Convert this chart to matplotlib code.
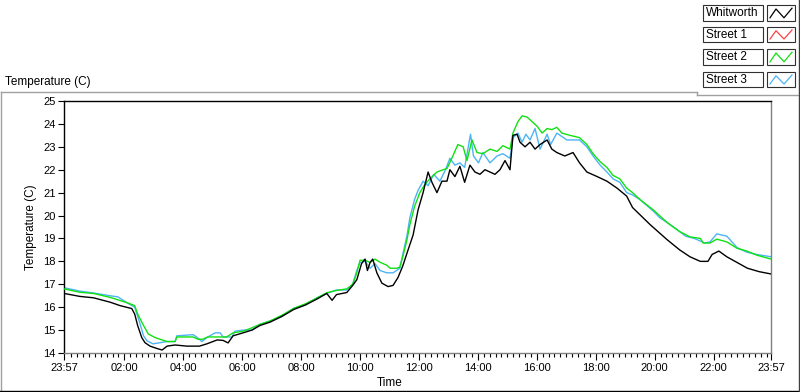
import matplotlib
matplotlib.use("Agg")
import matplotlib.pyplot as plt
from matplotlib.lines import Line2D
from matplotlib.patches import Rectangle
from matplotlib.ticker import FixedLocator

# ---------------- data (hours since 23:57 start) ----------------
series_names = ["Whitworth", "Street 1", "Street 2", "Street 3"]
series_colors = ["#000000", "#ff4040", "#11e011", "#4cb4f4"]

whitworth_t = [0, 0.54, 1.0, 1.56, 1.9, 2.3, 2.4, 2.5, 2.64, 2.75, 2.92, 3.15, 3.33, 3.5, 3.77,
               4.17, 4.6, 4.85, 5.2, 5.4, 5.57, 5.74, 6.08, 6.38, 6.65, 7.0, 7.4, 7.8, 8.2, 8.58,
               8.92, 9.1, 9.25, 9.6, 9.8, 9.94, 10.1, 10.22, 10.3, 10.39, 10.48, 10.62, 10.79, 11.0,
               11.17, 11.34, 11.5, 11.68, 11.85, 12.02, 12.19, 12.36, 12.49, 12.66, 12.83, 13.0,
               13.1, 13.27, 13.44, 13.6, 13.78, 13.95, 14.12, 14.29, 14.46, 14.63, 14.8, 14.97,
               15.14, 15.24, 15.38, 15.48, 15.65, 15.82, 15.99, 16.16, 16.4, 16.56, 16.73, 17.0,
               17.28, 17.5, 17.75, 18.1, 18.43, 18.77, 19.1, 19.3, 19.9, 20.47, 20.9, 21.25, 21.6,
               21.86, 22.0, 22.23, 22.5, 22.85, 23.2, 23.6, 24.0]
whitworth_v = [16.6, 16.47, 16.41, 16.22, 16.07, 15.94, 15.7, 15.2, 14.67, 14.45, 14.3, 14.2, 14.13, 14.3, 14.35,
               14.3, 14.3, 14.4, 14.57, 14.55, 14.44, 14.75, 14.88, 15.0, 15.2, 15.35, 15.6, 15.9, 16.1, 16.35,
               16.6, 16.3, 16.55, 16.64, 16.95, 17.2, 17.9, 18.1, 17.6, 17.95, 18.1, 17.5, 17.05, 16.9,
               16.95, 17.3, 17.8, 18.5, 19.15, 20.25, 21.0, 21.9, 21.45, 21.0, 21.5, 21.5,
               22.0, 21.7, 22.15, 21.45, 22.2, 21.9, 21.8, 22.0, 21.9, 21.8, 22.0, 22.4,
               22.0, 23.5, 23.55, 23.2, 23.0, 23.2, 22.9, 23.1, 23.3, 22.9, 22.75, 22.6,
               22.75, 22.3, 21.9, 21.7, 21.5, 21.2, 20.85, 20.35, 19.6, 18.95, 18.5, 18.2, 18.0,
               18.0, 18.3, 18.45, 18.2, 17.95, 17.7, 17.55, 17.45]

street1_t = []
street1_v = []

street2_t = [0, 0.54, 1.0, 1.56, 2.13, 2.4, 2.5, 2.7, 2.86, 3.1, 3.26, 3.5, 3.77, 3.83, 4.38, 4.55,
             4.7, 4.88, 5.52, 5.74, 6.08, 6.38, 6.65, 7.0, 7.4, 7.8, 8.2, 8.58, 8.92, 9.25, 9.6, 9.8,
             9.94, 10.05, 10.22, 10.39, 10.56, 10.73, 10.96, 11.07, 11.3, 11.4, 11.5, 11.64, 11.74,
             11.9, 12.08, 12.25, 12.42, 12.66, 12.87, 13.0, 13.2, 13.37, 13.55, 13.68, 13.85, 14.02,
             14.22, 14.46, 14.7, 14.9, 15.14, 15.24, 15.41, 15.55, 15.72, 15.89, 16.06, 16.23, 16.4,
             16.56, 16.73, 16.9, 17.18, 17.5, 17.75, 17.96, 18.2, 18.43, 18.64, 18.87, 19.1, 19.3,
             19.55, 20.0, 20.47, 20.9, 21.25, 21.6, 21.7, 21.93, 22.16, 22.5, 22.85, 23.18, 23.52, 24.0]
street2_v = [16.8, 16.65, 16.6, 16.43, 16.2, 16.07, 15.7, 15.2, 14.83, 14.67, 14.6, 14.5, 14.5, 14.7, 14.7, 14.6,
             14.6, 14.7, 14.7, 14.88, 14.95, 15.1, 15.25, 15.4, 15.65, 15.95, 16.15, 16.4, 16.63, 16.73, 16.8, 17.0,
             17.5, 18.05, 18.05, 17.95, 18.1, 17.96, 17.83, 17.7, 17.7, 17.75, 18.2, 18.93, 19.6,
             20.4, 21.0, 21.36, 21.6, 21.9, 22.0, 22.05, 22.6, 23.1, 23.0, 22.4, 23.3, 22.75,
             22.7, 22.9, 22.8, 23.05, 22.9, 23.6, 24.1, 24.35, 24.3, 24.1, 23.9, 23.6, 23.8,
             23.75, 23.85, 23.6, 23.5, 23.4, 23.1, 22.7, 22.35, 22.1, 21.75, 21.6, 21.2, 21.0,
             20.7, 20.25, 19.7, 19.3, 19.07, 19.0, 18.8, 18.8, 18.97, 18.85, 18.57, 18.45, 18.27, 18.1]

street3_t = [0, 0.54, 1.0, 1.56, 1.83, 2.13, 2.4, 2.58, 2.7, 2.82, 3.02, 3.26, 3.5, 3.77, 3.83, 4.38,
             4.5, 4.68, 4.88, 5.13, 5.3, 5.4, 5.7, 5.8, 6.08, 6.38, 6.65, 7.0, 7.4, 7.8, 8.2, 8.58,
             8.92, 9.25, 9.6, 9.8, 9.94, 10.05, 10.22, 10.39, 10.56, 10.73, 10.96, 11.17, 11.4, 11.5,
             11.64, 11.74, 11.9, 12.02, 12.19, 12.36, 12.55, 12.76, 12.95, 13.1, 13.27, 13.44, 13.6,
             13.8, 13.9, 14.07, 14.22, 14.46, 14.7, 14.9, 15.14, 15.24, 15.41, 15.55, 15.68, 15.82,
             15.99, 16.16, 16.4, 16.52, 16.73, 17.07, 17.5, 17.75, 17.96, 18.2, 18.43, 18.64, 18.87,
             19.1, 19.3, 19.55, 20.0, 20.23, 20.47, 20.9, 21.1, 21.4, 21.75, 21.93, 22.16, 22.5,
             22.85, 23.18, 23.52, 24.0]
street3_v = [16.85, 16.7, 16.62, 16.5, 16.45, 16.2, 16.0, 15.28, 14.75, 14.53, 14.4, 14.45, 14.5, 14.5, 14.75, 14.8,
             14.7, 14.5, 14.7, 14.88, 14.88, 14.7, 14.7, 14.95, 15.0, 15.0, 15.25, 15.4, 15.6, 15.95, 16.1, 16.4,
             16.6, 16.75, 16.75, 17.0, 17.6, 17.95, 18.0, 17.7, 17.9, 17.6, 17.5, 17.5, 17.7, 18.3,
             19.1, 19.9, 20.7, 21.1, 21.5, 21.3, 21.8, 21.5, 22.0, 22.5, 22.2, 22.3, 22.1,
             23.55, 22.6, 22.3, 22.75, 22.3, 22.6, 22.7, 22.5, 23.4, 23.6, 23.2, 23.55, 23.3,
             23.8, 22.9, 23.55, 23.1, 23.6, 23.3, 23.3, 23.0, 22.6, 22.2, 21.9, 21.6, 21.45,
             21.0, 20.9, 20.7, 20.2, 19.9, 19.7, 19.3, 19.1, 19.0, 18.8, 18.85, 19.2, 19.1,
             18.6, 18.4, 18.3, 18.2]

series_t = [whitworth_t, street1_t, street2_t, street3_t]
series_v = [whitworth_v, street1_v, street2_v, street3_v]

x_tick_pos = [0, 2.05, 4.05, 6.05, 8.05, 10.05, 12.05, 14.05, 16.05, 18.05, 20.05, 22.05, 24]
x_tick_labels = ["23:57", "02:00", "04:00", "06:00", "08:00", "10:00", "12:00",
                 "14:00", "16:00", "18:00", "20:00", "22:00", "23:57"]
y_ticks = list(range(14, 26))

# ---------------- figure ----------------
W, H = 800, 392
plt.rcParams['font.family'] = ['Liberation Sans', 'DejaVu Sans']
fig = plt.figure(figsize=(W / 100, H / 100), dpi=100, facecolor="white")


def fx(px):
    return px / W


def fy(py):
    return 1 - py / H


ax = fig.add_axes([fx(64), fy(353), fx(771) - fx(64), fy(101) - fy(353)])
ax.set_xlim(0, 24)
ax.set_ylim(14, 25)

zorders = [5, 4, 3, 2]
for t, v, c, z, n in zip(series_t, series_v, series_colors, zorders, series_names):
    ax.plot(t, v, color=c, lw=1.0, zorder=z, label=n)

ax.xaxis.set_major_locator(FixedLocator(x_tick_pos))
ax.set_xticklabels(x_tick_labels)
minor = [0.05 + 0.2 * k for k in range(1, 120)]
minor = [m for m in minor if all(abs(m - p) > 0.03 for p in x_tick_pos) and m < 24]
ax.xaxis.set_minor_locator(FixedLocator(minor))
ax.set_yticks(y_ticks)

ax.tick_params(axis='both', which='major', labelsize=8, colors='#000000', direction='out', width=0.8)
ax.tick_params(axis='x', which='major', length=5, pad=2)
ax.tick_params(axis='x', which='minor', length=3, width=0.8, direction='out')
ax.tick_params(axis='y', which='major', length=4, pad=2)

for s in ['top', 'left']:
    ax.spines[s].set_color('#000000')
    ax.spines[s].set_linewidth(1.0)
for s in ['right', 'bottom']:
    ax.spines[s].set_color('#808080')
    ax.spines[s].set_linewidth(1.0)

ax.set_xlabel("Time", fontsize=8.5, labelpad=1)
ax.xaxis.set_label_coords((390 - 64) / 707, -(377 - 353) / 252)
ax.set_ylabel("Temperature (C)", fontsize=8.5)
ax.yaxis.set_label_coords(-(64 - 37) / 707, 0.5)

fig.text(fx(5), fy(82), "Temperature (C)", fontsize=8.5, va='center', ha='left')

# ---------------- panel borders ----------------
def fline(xs, ys, color, lw=1.0):
    fig.add_artist(Line2D([fx(x) for x in xs], [fy(y) for y in ys], color=color,
                          lw=lw, transform=fig.transFigure))

fline([0.5, 697], [92, 92], '#a0a0a0')
fline([697, 697], [92, 95], '#a0a0a0')
fline([697, 799], [95, 95], '#a0a0a0')
fline([0.5, 0.5], [92, 392], '#a0a0a0')
fline([0, 800], [391, 391], '#000000')
fline([799, 799], [0, 392], '#404040')

# ---------------- legend ----------------
rows = [(5, 21), (27, 42), (49, 65), (72, 87)]
for (y0, y1), name, col in zip(rows, series_names, series_colors):
    fig.add_artist(Rectangle((fx(703), fy(y1)), fx(763) - fx(703), fy(y0) - fy(y1),
                             transform=fig.transFigure, facecolor='white',
                             edgecolor='#303030', lw=0.8))
    fig.text(fx(706), fy((y0 + y1) / 2 + 0.5), name, fontsize=8.5, va='center', ha='left')
    fig.add_artist(Rectangle((fx(767), fy(y1)), fx(795) - fx(767), fy(y0) - fy(y1),
                             transform=fig.transFigure, facecolor='white',
                             edgecolor='#303030', lw=0.8))
    hgt = y1 - y0
    zx = [770, 776, 784, 792]
    zy = [y1 - 0.2 * hgt, y0 + 0.25 * hgt, y1 - 0.2 * hgt, y0 + 0.2 * hgt]
    fline(zx, zy, col, lw=0.9)

fig.savefig("out.png", dpi=100, facecolor="white")
